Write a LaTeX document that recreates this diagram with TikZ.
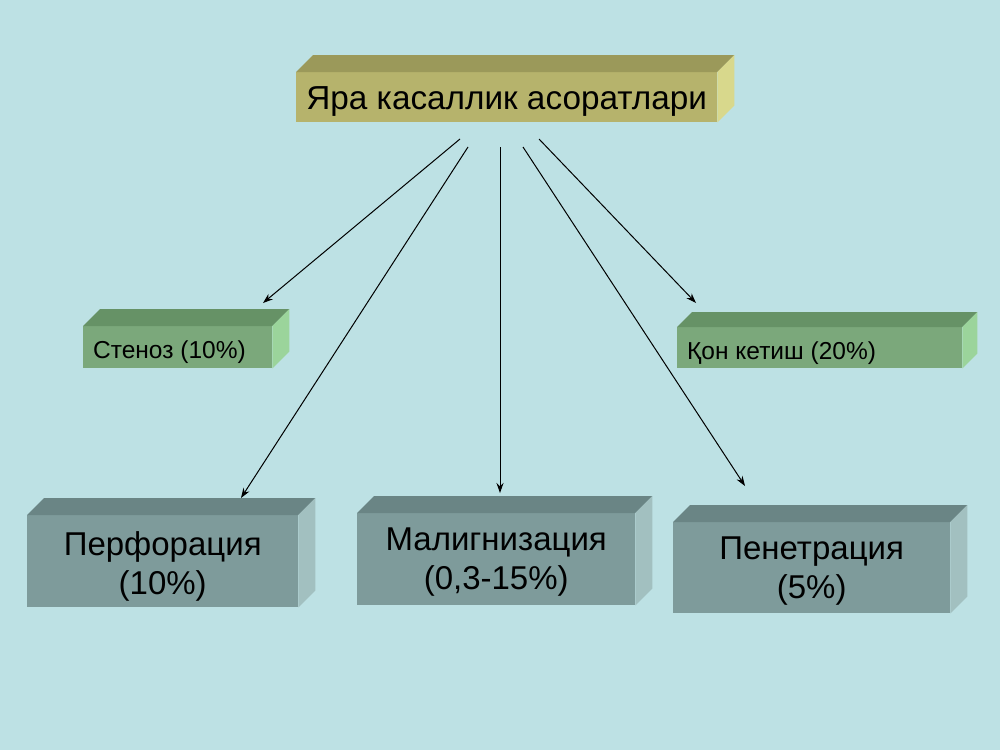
\documentclass[tikz,border=0pt]{standalone}
\usepackage{fontspec}
\setmainfont{Liberation Sans}
\usetikzlibrary{arrows.meta,calc}
\definecolor{bg}{RGB}{189,225,228}
\definecolor{olfront}{RGB}{182,179,108}
\definecolor{oltop}{RGB}{155,153,90}
\definecolor{olside}{RGB}{216,216,140}
\definecolor{grfront}{RGB}{123,168,123}
\definecolor{grtop}{RGB}{102,146,102}
\definecolor{grside}{RGB}{155,212,155}
\definecolor{gyfront}{RGB}{126,155,155}
\definecolor{gytop}{RGB}{106,133,133}
\definecolor{gyside}{RGB}{162,192,192}
\tikzset{
  face/.style={draw=none, inner sep=0pt, anchor=north west},
  bigtext/.style={font=\fontsize{33}{39}\selectfont, align=center, inner sep=0pt},
  smalltext/.style={font=\fontsize{24.5}{28}\selectfont, inner sep=0pt, anchor=west},
  conn/.style={line width=1pt, -{Stealth[length=10pt,width=7pt]}}
}
\newcommand{\cubefaces}[4]{% node, depth, top colour, side colour
  \fill[#3] (#1.north west) -- ++(#2,-#2) -- ($(#1.north east)+(#2,-#2)$) -- (#1.north east) -- cycle;
  \fill[#4] (#1.north east) -- ++(#2,-#2) -- ($(#1.south east)+(#2,-#2)$) -- (#1.south east) -- cycle;
}
\begin{document}
\begin{tikzpicture}[x=1pt,y=-1pt]
\fill[bg] (0,0) rectangle (1000,750);
\useasboundingbox (0,0) rectangle (1000,750);

% top box
\node[face, fill=olfront, minimum width=421pt, minimum height=50pt] (top) at (296,72) {};
\cubefaces{top}{17}{oltop}{olside}
\node[inner sep=0pt, font=\fontsize{33.3}{38}\selectfont] (toptxt) at ($(top.center)+(0,4)$) {Яра касаллик асоратлари};

% middle boxes
\node[face, fill=grfront, minimum width=189pt, minimum height=42pt] (sten) at (83,326) {};
\cubefaces{sten}{17}{grtop}{grside}
\node[smalltext] (stentxt) at ($(sten.west)+(10,5)$) {Стеноз (10\%)};
\node[face, fill=grfront, minimum width=285pt, minimum height=41pt] (qon) at (677,327) {};
\cubefaces{qon}{15}{grtop}{grside}
\node[smalltext] (qontxt) at ($(qon.west)+(10,5)$) {Қон кетиш (20\%)};

% bottom boxes
\node[face, fill=gyfront, minimum width=271pt, minimum height=92pt] (perf) at (27,515) {};
\cubefaces{perf}{17}{gytop}{gyside}
\node[bigtext] (perftxt) at ($(perf.center)+(0,5)$) {Перфорация\\(10\%)};
\node[face, fill=gyfront, minimum width=278pt, minimum height=92pt] (mal) at (357,513) {};
\cubefaces{mal}{17}{gytop}{gyside}
\node[bigtext] (maltxt) at ($(mal.center)+(0,3)$) {Малигнизация\\(0,3-15\%)};
\node[face, fill=gyfront, minimum width=277pt, minimum height=91pt] (pen) at (673,522) {};
\cubefaces{pen}{17}{gytop}{gyside}
\node[bigtext] (pentxt) at ($(pen.center)+(0,3)$) {Пенетрация\\(5\%)};

% connector ends
\coordinate (s1) at (460,139);
\coordinate (s2) at (468,147);
\coordinate (s3) at (500,147);
\coordinate (s4) at (523,147);
\coordinate (s5) at (539,139);
\coordinate (t1) at (263,303);
\coordinate (t2) at (241,498);
\coordinate (t3) at (500,493);
\coordinate (t4) at (745,486);
\coordinate (t5) at (696,303);

\draw[conn] (s1) -- (t1);
\draw[conn] (s2) -- (t2);
\draw[conn] (s3) -- (t3);
\draw[conn] (s4) -- (t4);
\draw[conn] (s5) -- (t5);
\end{tikzpicture}
\end{document}
